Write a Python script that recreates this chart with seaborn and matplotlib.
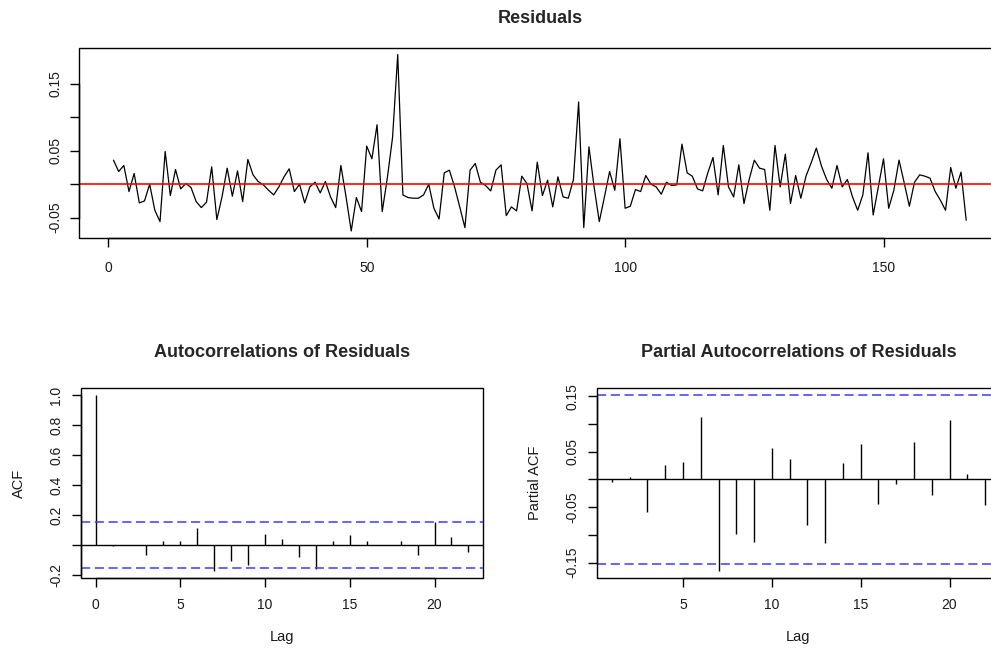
# Residual diagnostics: residual series, ACF and PACF (R-style look)
import numpy as np
import matplotlib
matplotlib.use("Agg")
import matplotlib.pyplot as plt
from matplotlib.patches import Rectangle
import seaborn as sns

sns.set_theme(style="white")
plt.rcParams['font.family'] = ['Liberation Sans', 'DejaVu Sans']

# residuals (t = 1..166)
resid = [0.036, 0.019, 0.028, -0.011, 0.016, -0.028, -0.025, 0.000, -0.039, -0.056,
         0.049, -0.017, 0.022, -0.007, 0.001, -0.005, -0.026, -0.035, -0.027, 0.026,
         -0.053, -0.019, 0.024, -0.018, 0.020, -0.026, 0.037, 0.014, 0.004, -0.001,
         -0.009, -0.016, -0.004, 0.011, 0.023, -0.011, 0.000, -0.028, -0.004, 0.003,
         -0.013, 0.004, -0.019, -0.035, 0.028, -0.019, -0.070, -0.020, -0.041, 0.057,
         0.038, 0.089, -0.041, 0.010, 0.070, 0.194, -0.016, -0.020, -0.021, -0.021,
         -0.016, 0.000, -0.036, -0.052, 0.017, 0.021, -0.004, -0.034, -0.065, 0.021,
         0.031, 0.003, -0.002, -0.010, 0.021, 0.029, -0.047, -0.034, -0.040, 0.012,
         0.001, -0.040, 0.033, -0.017, 0.006, -0.034, 0.011, -0.019, -0.021, 0.007,
         0.123, -0.065, 0.056, -0.004, -0.056, -0.019, 0.019, -0.009, 0.068, -0.036,
         -0.033, -0.008, -0.011, 0.013, 0.000, -0.004, -0.015, 0.003, -0.002, -0.001,
         0.060, 0.017, 0.012, -0.007, -0.010, 0.017, 0.040, -0.016, 0.058, -0.004,
         -0.019, 0.029, -0.029, 0.007, 0.036, 0.024, 0.022, -0.039, 0.058, -0.004,
         0.045, -0.029, 0.013, -0.021, 0.012, 0.032, 0.054, 0.027, 0.007, -0.006,
         0.028, -0.004, 0.007, -0.019, -0.039, -0.016, 0.047, -0.046, -0.004, 0.038,
         -0.036, -0.009, 0.036, 0.002, -0.033, 0.003, 0.014, 0.012, 0.009, -0.011,
         -0.024, -0.039, 0.025, -0.006, 0.018, -0.054]
t = np.arange(1, len(resid) + 1)

# ACF lags 0..22
acf_lags = list(range(0, 23))
acf_vals = [1.0, -0.004, 0.0, -0.067, 0.027, 0.027, 0.118, -0.171, -0.104, -0.131,
            0.076, 0.040, -0.076, -0.160, 0.027, 0.069, 0.027, 0.0, 0.027, -0.062,
            0.158, 0.056, -0.042]

# PACF lags 1..22
pacf_lags = list(range(1, 23))
pacf_vals = [-0.004, 0.004, -0.059, 0.026, 0.032, 0.113, -0.165, -0.098, -0.113, 0.057,
             0.037, -0.082, -0.115, 0.029, 0.063, -0.045, -0.008, 0.067, -0.029, 0.107,
             0.010, -0.047]

clim = 1.96 / np.sqrt(len(resid))
BLUE = '#3c3cff'
TXT = '#1a1a1a'


def r_style(ax, xticks, yticks, ylabels, xpad=8):
    # box around the plot region, axis lines on the box edge like base R
    ax.add_patch(Rectangle((0, 0), 1, 1, transform=ax.transAxes, fill=False,
                           ec='black', lw=1.0, clip_on=False, zorder=5))
    for s in ['top', 'right']:
        ax.spines[s].set_visible(False)
    for s in ['left', 'bottom']:
        ax.spines[s].set_color('black')
        ax.spines[s].set_linewidth(1.0)
    ax.set_xticks(xticks)
    ax.set_yticks(yticks)
    ax.set_yticklabels(ylabels)
    ax.spines['bottom'].set_bounds(xticks[0], xticks[-1])
    ax.spines['left'].set_bounds(yticks[0], yticks[-1])
    ax.tick_params(direction='out', length=6.5, width=1.0, color='black',
                   labelsize=10, labelcolor=TXT, left=True, bottom=True)
    ax.tick_params(axis='x', pad=xpad)
    ax.tick_params(axis='y', pad=6)
    for lab in ax.get_yticklabels():
        lab.set_rotation(90)
        lab.set_va('center')
    ax.grid(False)


def r_lim(lo, hi):
    pad = 0.04 * (hi - lo)
    return lo - pad, hi + pad


fig = plt.figure(figsize=(9.91, 6.5), dpi=100)

# top: residual series
ax1 = fig.add_axes([0.0801, 0.6338, 0.9293, 0.2931])
sns.lineplot(x=t, y=resid, ax=ax1, color='black', lw=0.9)
ax1.axhline(0, color='red', lw=1.2)
ax1.set_xlim(*r_lim(t.min(), t.max()))
ax1.set_ylim(*r_lim(min(resid), max(resid)))
r_style(ax1, [0, 50, 100, 150], [-0.05, 0.0, 0.05, 0.10, 0.15],
        ['-0.05', '', '0.05', '', '0.15'], xpad=10)
ax1.set_title('Residuals', fontsize=13, fontweight='bold', pad=18)

# bottom left: ACF
ax2 = fig.add_axes([0.0814, 0.1108, 0.4063, 0.2923])
ax2.vlines(acf_lags, 0, acf_vals, color='black', lw=1.0)
ax2.axhline(0, color='black', lw=1.0)
for c in (clim, -clim):
    ax2.axhline(c, color=BLUE, lw=1.1, ls=(0, (6, 3)))
ax2.set_xlim(*r_lim(min(acf_lags), max(acf_lags)))
ax2.set_ylim(*r_lim(min(min(acf_vals), -clim), max(max(acf_vals), clim)))
r_style(ax2, [0, 5, 10, 15, 20], [-0.2, 0.0, 0.2, 0.4, 0.6, 0.8, 1.0],
        ['-0.2', '', '0.2', '0.4', '0.6', '0.8', '1.0'])
ax2.set_title('Autocorrelations of Residuals', fontsize=13, fontweight='bold', pad=22)
ax2.set_xlabel('Lag', fontsize=10.5, color=TXT)
ax2.set_ylabel('ACF', fontsize=10.5, color=TXT)
ax2.xaxis.set_label_coords(0.5, -0.275)
ax2.yaxis.set_label_coords(-0.136, 0.5)

# bottom right: PACF
ax3 = fig.add_axes([0.6024, 0.1108, 0.4067, 0.2923])
ax3.vlines(pacf_lags, 0, pacf_vals, color='black', lw=1.0)
ax3.axhline(0, color='black', lw=1.0)
for c in (clim, -clim):
    ax3.axhline(c, color=BLUE, lw=1.1, ls=(0, (6, 3)))
ax3.set_xlim(*r_lim(min(pacf_lags), max(pacf_lags)))
ax3.set_ylim(*r_lim(min(min(pacf_vals), -clim), max(max(pacf_vals), clim)))
r_style(ax3, [5, 10, 15, 20], [-0.15, -0.10, -0.05, 0.0, 0.05, 0.10, 0.15],
        ['-0.15', '', '-0.05', '', '0.05', '', '0.15'])
ax3.set_title('Partial Autocorrelations of Residuals', fontsize=13, fontweight='bold', pad=22)
ax3.set_xlabel('Lag', fontsize=10.5, color=TXT)
ax3.set_ylabel('Partial ACF', fontsize=10.5, color=TXT)
ax3.xaxis.set_label_coords(0.5, -0.275)
ax3.yaxis.set_label_coords(-0.136, 0.5)

fig.savefig('out.png', dpi=100)
